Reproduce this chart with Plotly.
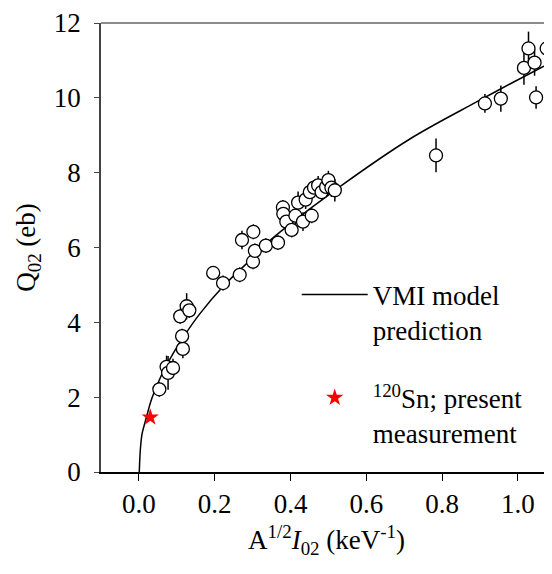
import plotly.graph_objects as go

# Data
data_x = [0.054, 0.073, 0.077, 0.090, 0.116, 0.114, 0.109, 0.126, 0.133,
          0.196, 0.222, 0.266, 0.272, 0.301, 0.306, 0.302, 0.335, 0.367,
          0.380, 0.381, 0.389, 0.403, 0.413, 0.420, 0.433, 0.440, 0.451,
          0.456, 0.462, 0.473, 0.482, 0.494, 0.500, 0.508, 0.517,
          0.784, 0.913, 0.955, 1.016, 1.028, 1.044, 1.048, 1.076]
data_q = [2.21, 2.81, 2.65, 2.78, 3.29, 3.63, 4.16, 4.43, 4.32,
          5.32, 5.05, 5.27, 6.20, 5.62, 5.91, 6.42, 6.05, 6.13,
          7.07, 6.90, 6.69, 6.47, 6.85, 7.20, 6.69, 7.28, 7.48,
          6.85, 7.60, 7.66, 7.48, 7.62, 7.80, 7.60, 7.53,
          8.46, 9.85, 9.98, 10.80, 11.32, 10.94, 10.01, 11.32]
data_err = [0.20, 0.30, 0.45, 0.25, 0.25, 0.20, 0.20, 0.35, 0.20,
            0.15, 0.20, 0.20, 0.25, 0.20, 0.20, 0.20, 0.20, 0.20,
            0.20, 0.20, 0.20, 0.20, 0.25, 0.30, 0.25, 0.25, 0.20,
            0.20, 0.20, 0.25, 0.20, 0.25, 0.25, 0.25, 0.30,
            0.45, 0.25, 0.35, 0.45, 0.45, 0.35, 0.30, 0.20]

sn_x = [0.030]
sn_q = [1.46]
sn_err = [0.10]

vmi_x = [0.001, 0.0037, 0.008, 0.014, 0.0195, 0.030, 0.041, 0.0565, 0.074,
         0.092, 0.109, 0.160, 0.222, 0.310, 0.345, 0.372, 0.535, 0.715,
         0.891, 0.979, 1.090]
vmi_q = [0.0, 0.58, 1.00, 1.25, 1.45, 1.84, 2.15, 2.52, 2.87,
         3.20, 3.48, 4.22, 4.96, 5.82, 6.18, 6.41, 7.66, 8.90,
         9.89, 10.37, 10.96]

FONT = "Liberation Serif"

fig = go.Figure()

fig.add_trace(go.Scatter(
    x=vmi_x, y=vmi_q, mode="lines", line=dict(color="black", width=1.5, shape="spline"),
    name="VMI model<br>prediction", legendgroup="a", showlegend=True))

fig.add_trace(go.Scatter(
    x=data_x, y=data_q, mode="markers",
    error_y=dict(type="data", array=data_err, color="black", thickness=1.5, width=0),
    marker=dict(symbol="circle", size=13, color="white", line=dict(color="black", width=1.3)),
    showlegend=False))

fig.add_trace(go.Scatter(
    x=sn_x, y=sn_q, mode="markers",
    error_y=dict(type="data", array=sn_err, color="red", thickness=1.2, width=0),
    marker=dict(symbol="star", size=13, color="red", line=dict(width=0)),
    name="<sup>120</sup>Sn; present<br>measurement", legendgroup="b", showlegend=True))

fig.update_layout(
    width=544, height=558,
    margin=dict(l=93, r=0, t=12, b=94),
    paper_bgcolor="white", plot_bgcolor="white",
    font=dict(family=FONT, size=27, color="black"),
    showlegend=True,
    legend=dict(x=0.434, y=0.449, xanchor="left", yanchor="top",
                bgcolor="rgba(0,0,0,0)", font=dict(family=FONT, size=27),
                tracegroupgap=30, itemwidth=66, valign="top"),
    xaxis=dict(range=[-0.1, 1.09], tickvals=[0.0, 0.2, 0.4, 0.6, 0.8, 1.0],
               ticktext=["0.0", "0.2", "0.4", "0.6", "0.8", "1.0"],
               tickfont=dict(family=FONT, size=27),
               showgrid=False, zeroline=False, showline=True, linecolor="black", linewidth=1.5,
               ticks="outside", ticklen=7, tickwidth=1.2, tickcolor="black",
               ticklabeloverflow="allow",
               title=dict(text="A<sup>1/2</sup><i>I</i><sub>02</sub> (keV<sup>-1</sup>)",
                          font=dict(family=FONT, size=27), standoff=12)),
    yaxis=dict(range=[0, 12], tickvals=[0, 2, 4, 6, 8, 10, 12],
               tickfont=dict(family=FONT, size=27),
               showgrid=False, zeroline=False, showline=True, linecolor="#444", linewidth=1.5,
               ticks="outside", ticklen=5, tickwidth=1.2, tickcolor="#444",
               ticklabeloverflow="allow", ticklabelstandoff=8,
               title=dict(text="Q<sub>02</sub> (eb)", font=dict(family=FONT, size=27), standoff=10)),
    shapes=[dict(type="line", xref="paper", yref="paper", x0=0, x1=1, y0=1, y1=1,
                 line=dict(color="#666", width=1.5), layer="above")],
)

fig.write_html("out.html")
